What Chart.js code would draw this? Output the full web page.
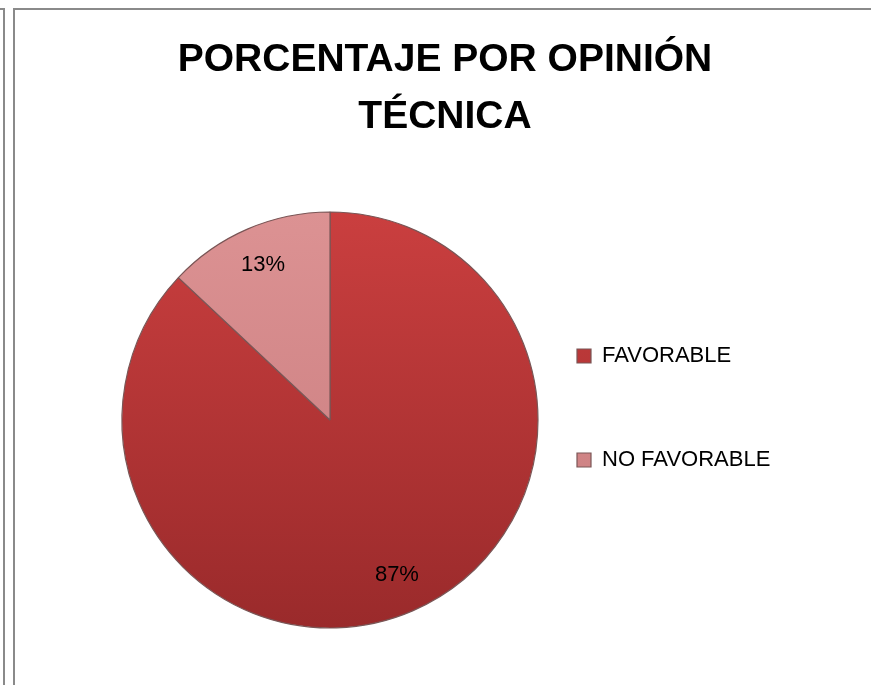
<!DOCTYPE html>
<html>
<head>
<meta charset="utf-8">
<script src="https://cdn.jsdelivr.net/npm/chart.js@4/dist/chart.umd.min.js"></script>
<style>
    body { margin: 0; background: #fff; }
    #wrap { position: relative; width: 871px; height: 685px; overflow: hidden; }
    .line { position: absolute; background: #8a8a8a; }
</style>
</head>
<body>
<div id="wrap">
    <div class="line" style="left:3px; top:8px; width:1.5px; height:677px;"></div>
    <div class="line" style="left:0; top:8px; width:4px; height:1.5px;"></div>
    <div class="line" style="left:13px; top:8px; width:1.5px; height:677px;"></div>
    <div class="line" style="left:13px; top:8px; width:858px; height:1.5px;"></div>
    <canvas id="pieChart" width="871" height="685"></canvas>
</div>
<script>
// datos del gráfico
const titleLines = ['PORCENTAJE POR OPINIÓN', 'TÉCNICA'];
const categories = ['FAVORABLE', 'NO FAVORABLE'];
const percentages = [87, 13];
const colorsTop = ['#ca3f3f', '#dc9293'];
const colorsBottom = ['#9a2a2b', '#c77a7c'];

const FONT = "'Liberation Sans', Arial, sans-serif";
const fontSize = 22;
const boxSize = 14;
const legendX = 577;

// medir el texto de la leyenda para cuadrar la posición
const mctx = document.createElement('canvas').getContext('2d');
mctx.font = fontSize + 'px ' + FONT;
const textW = Math.max(...categories.map(c => mctx.measureText(c).width));
const itemW = boxSize + fontSize / 2 + textW;
const legendPad = 220 - itemW;
const legendTitleH = Math.max(80 - fontSize - legendPad, 0);

// etiquetas de porcentaje dentro de cada sector
const sliceLabels = {
    id: 'sliceLabels',
    afterDatasetsDraw(chart) {
        const ctx = chart.ctx;
        const meta = chart.getDatasetMeta(0);
        ctx.save();
        ctx.font = fontSize + 'px ' + FONT;
        ctx.fillStyle = '#000';
        ctx.textAlign = 'center';
        ctx.textBaseline = 'middle';
        meta.data.forEach((arc, i) => {
            const p = arc.getProps(['x', 'y', 'startAngle', 'endAngle', 'outerRadius'], true);
            const mid = (p.startAngle + p.endAngle) / 2;
            const r = p.outerRadius * 0.81;
            ctx.fillText(percentages[i] + '%', p.x + Math.cos(mid) * r, p.y + Math.sin(mid) * r);
        });
        ctx.restore();
    }
};

function sliceColor(context) {
    const chart = context.chart;
    const area = chart.chartArea;
    const i = context.dataIndex;
    if (!area) return colorsTop[i];
    const g = chart.ctx.createLinearGradient(0, area.top, 0, area.bottom);
    g.addColorStop(0, colorsTop[i]);
    g.addColorStop(1, colorsBottom[i]);
    return g;
}

const baseLabels = Chart.overrides.doughnut.plugins.legend.labels.generateLabels;

new Chart(document.getElementById('pieChart'), {
    type: 'pie',
    data: {
        labels: categories,
        datasets: [{
            data: percentages,
            backgroundColor: sliceColor,
            borderColor: '#7a5656',
            borderWidth: 1.2,
            radius: 208
        }]
    },
    options: {
        responsive: false,
        animation: false,
        events: [],
        layout: {
            padding: { left: 660 - legendX + legendPad, right: 871 - legendX - 10 - itemW, top: 0, bottom: 57 }
        },
        plugins: {
            tooltip: { enabled: false },
            title: {
                display: true,
                text: titleLines,
                color: '#000',
                font: { family: FONT, size: 39, weight: 'bold', lineHeight: '57.5px' },
                padding: { top: 31.25, bottom: 65.75 }
            },
            legend: {
                position: 'right',
                fullSize: false,
                title: {
                    display: true,
                    text: '',
                    padding: 0,
                    font: { size: 10, lineHeight: legendTitleH + 'px' }
                },
                labels: {
                    boxWidth: boxSize,
                    boxHeight: boxSize,
                    padding: legendPad,
                    color: '#000',
                    font: { family: FONT, size: fontSize, lineHeight: (104 - legendPad) + 'px' },
                    generateLabels(chart) {
                        return baseLabels(chart).map(item => Object.assign(item, { text: [item.text] }));
                    }
                }
            }
        }
    },
    plugins: [sliceLabels]
});
</script>
</body>
</html>
